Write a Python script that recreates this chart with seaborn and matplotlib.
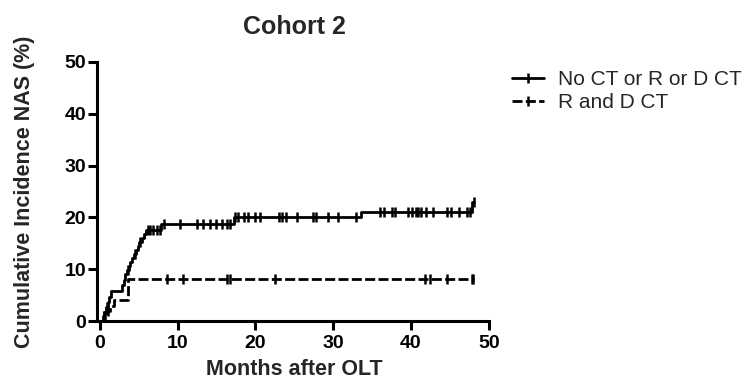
import numpy as np
import pandas as pd
import matplotlib
matplotlib.use("Agg")
import matplotlib.pyplot as plt
import seaborn as sns
from matplotlib.lines import Line2D

sns.set_theme(style="ticks")
plt.rcParams['font.family'] = ['Liberation Sans', 'DejaVu Sans']

title = "Cohort 2"
x_label = "Months after OLT"
y_label = "Cumulative Incidence NAS (%)"
series_names = ["No CT or R or D CT", "R and D CT"]

# Solid group: step event times (months) and cumulative incidence (%)
solid_times = [0, 0.4, 0.6, 0.8, 1.0, 1.2, 1.4, 2.9, 3.1, 3.3, 3.5, 3.7, 3.9, 4.2,
               4.4, 4.6, 4.9, 5.1, 5.4, 5.7, 6.0, 7.9, 17.2, 33.6, 47.9]
solid_vals = [0, 0.9, 1.8, 2.7, 3.6, 4.6, 5.9, 7.0, 8.0, 9.0, 9.8, 10.6, 11.4, 12.2,
              13.0, 13.7, 14.5, 15.2, 16.0, 16.8, 17.6, 18.8, 20.0, 21.0, 23.0]
solid_censor = [0.5, 0.9, 3.6, 4.5, 5.2, 6.2, 6.5, 6.9, 7.3, 7.7, 8.2, 10.3,
                12.5, 13.3, 14.2, 15.0, 15.7, 16.3, 16.7, 17.4, 17.8, 18.6, 19.0,
                19.9, 20.6, 23.1, 23.4, 24.0, 25.4, 27.4, 27.8, 29.3, 30.6, 33.0,
                36.0, 36.5, 37.6, 38.0, 39.6, 40.1, 40.6, 40.9, 41.3, 42.0, 42.8,
                44.6, 45.2, 46.2, 47.2, 47.6, 48.1]
solid_end = 48.1

# Dashed group
dash_times = [0, 0.5, 0.9, 1.3, 1.8, 3.6]
dash_vals = [0, 1.0, 2.0, 3.0, 4.0, 8.1]
dash_censor = [0.7, 1.1, 8.6, 10.7, 16.3, 16.7, 22.5, 41.8, 42.4, 44.6, 47.8, 48.0]
dash_end = 48.1


def step_frame(times, vals, end, name):
    t = list(times) + [end]
    v = list(vals) + [vals[-1]]
    return pd.DataFrame({"t": t, "v": v, "group": name})


def censor_frame(times, vals, cens, name):
    idx = np.searchsorted(np.array(times), np.array(cens), side="right") - 1
    return pd.DataFrame({"t": cens, "v": np.array(vals)[idx], "group": name})


fig = plt.figure(figsize=(7.45, 3.85), dpi=100)
ax = fig.add_axes([0.134, 0.166, 0.522, 0.673])

styles = [dict(ls="-"), dict(ls=(0, (3.6, 1.2)))]
data_sets = [(solid_times, solid_vals, solid_censor, solid_end),
             (dash_times, dash_vals, dash_censor, dash_end)]

for (times, vals, cens, end), name, st in zip(data_sets, series_names, styles):
    df = step_frame(times, vals, end, name)
    sns.lineplot(data=df, x="t", y="v", ax=ax, estimator=None, sort=False,
                 drawstyle="steps-post", color="black", lw=2, linestyle=st["ls"],
                 legend=False)
    cf = censor_frame(times, vals, cens, name)
    sns.scatterplot(data=cf, x="t", y="v", ax=ax, marker="|", s=50,
                    color="black", linewidth=1.8, legend=False, zorder=3)

ax.set_xlim(0, 50)
ax.set_ylim(0, 50)
ax.set_xticks(range(0, 51, 10))
ax.set_yticks(range(0, 51, 10))
ax.spines["top"].set_visible(False)
ax.spines["right"].set_visible(False)
for s in ["left", "bottom"]:
    ax.spines[s].set_linewidth(2.2)
    ax.spines[s].set_color("black")
ax.spines["left"].set_position(("outward", 2))
ax.tick_params(axis="both", length=6.5, width=2.2, colors="black", labelsize=14, pad=1.5)
ax.tick_params(axis="x", pad=3.5)
for lab in ax.get_xticklabels() + ax.get_yticklabels():
    lab.set_fontweight("bold")
ax.set_xlabel(x_label, fontsize=15.5, fontweight="bold", labelpad=5)
ax.set_ylabel(y_label, fontsize=15.5, fontweight="bold", labelpad=21)
ax.set_title(title, fontsize=18, fontweight="bold", pad=20)

handles = [Line2D([0], [0], color="black", lw=2, ls=st["ls"], marker="|",
                  markersize=7, markeredgewidth=1.8) for st in styles]
leg = fig.legend(handles, series_names, loc="upper left",
                 bbox_to_anchor=(0.681, 0.829), frameon=False, fontsize=15,
                 handlelength=1.55, handletextpad=0.7, labelspacing=0.2,
                 borderaxespad=0, borderpad=0.2)

fig.savefig("out.png", dpi=100)
